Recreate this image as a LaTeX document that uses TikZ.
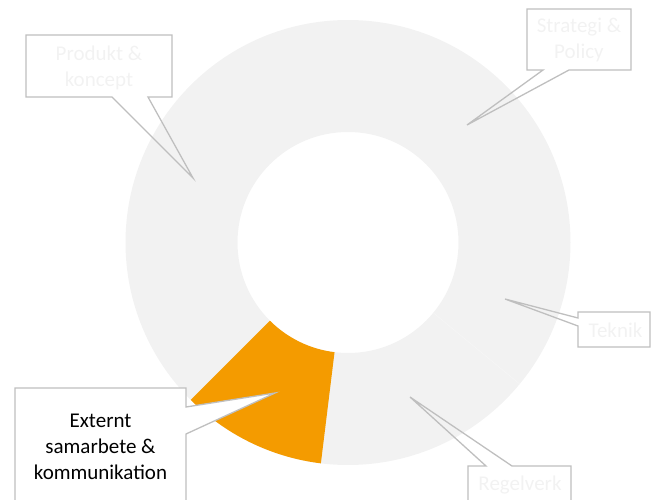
\documentclass[tikz,border=0pt]{standalone}
\usepackage{fontspec}
\setmainfont{Carlito}
\usepackage{tikz}
\usetikzlibrary{calc}
\definecolor{ringgrey}{HTML}{F2F2F2}
\definecolor{seamgrey}{HTML}{F6F6F6}
\definecolor{sliceorange}{HTML}{F49B00}
\definecolor{calloutgrey}{HTML}{BFBFBF}
\newcommand\labelfont{\fontsize{21}{26}\selectfont}
\tikzstyle{callout} = [draw=calloutgrey, line width=1.3pt, line join=miter]
\tikzstyle{fadedlabel} = [text=ringgrey, align=center, font=\labelfont, inner sep=0pt]
\tikzstyle{darklabel} = [text=black, align=center, font=\labelfont, inner sep=0pt]
\def\outerR{222.5}
\def\innerR{110.5}

\begin{document}
\begin{tikzpicture}[x=1pt, y=1pt]
  \useasboundingbox (0,0) rectangle (651,499);
  \clip (0,0) rectangle (651,499);
    % Ring
    \coordinate (c) at (348,256.5);
    \fill[ringgrey, even odd rule] (c) circle (\outerR) (c) circle (\innerR);
    \draw[seamgrey, line width=0.6pt] ($(c)+(-39.5:\innerR)$) -- ($(c)+(-39.5:\outerR)$);
    \fill[sliceorange] ($(c)+(225:\outerR)$) arc (225:263:\outerR)
      -- ($(c)+(263:\innerR)$) arc (263:225:\innerR) -- cycle;

    % Pointer tips
    \coordinate (prodtip) at (193,321);
    \coordinate (strattip) at (467,374);
    \coordinate (tektip) at (505,200);
    \coordinate (regeltip) at (410,102);
    \coordinate (exttip) at (275,106);

    % Callouts
    \path[callout] (26,464) -- (172,464) -- (172,402) -- (148,402) -- (prodtip)
      -- (112,402) -- (26,402) -- cycle;
    \path[callout] (527,490) -- (631,490) -- (631,429) -- (569,429) -- (strattip)
      -- (543,429) -- (527,429) -- cycle;
    \path[callout] (578,187) -- (650,187) -- (650,152) -- (578,152) -- (578,173)
      -- (tektip) -- (578,181) -- cycle;
    \path[callout] (468,-5) -- (468,33) -- (486,33) -- (regeltip) -- (512,33)
      -- (571,33) -- (571,-5);
    \path[callout, fill=white] (15,-5) -- (15,111) -- (186,111) -- (186,92)
      -- (exttip) -- (186,65) -- (186,-5);

    % Place labels
    \node[fadedlabel] (prodlbl) at (99,431.5) {Produkt \&\\ koncept};
    \node[fadedlabel] (stratlbl) at (579,459) {Strategi \&\\ Policy};
    \node[fadedlabel, anchor=base] (teklbl) at (615.5,162) {Teknik};
    \node[fadedlabel, anchor=base] (regellbl) at (520,8.3) {Regelverk};
    \node[darklabel] (extlbl) at (100.5,52) {Externt\\ samarbete \&\\ kommunikation};
\end{tikzpicture}
\end{document}
